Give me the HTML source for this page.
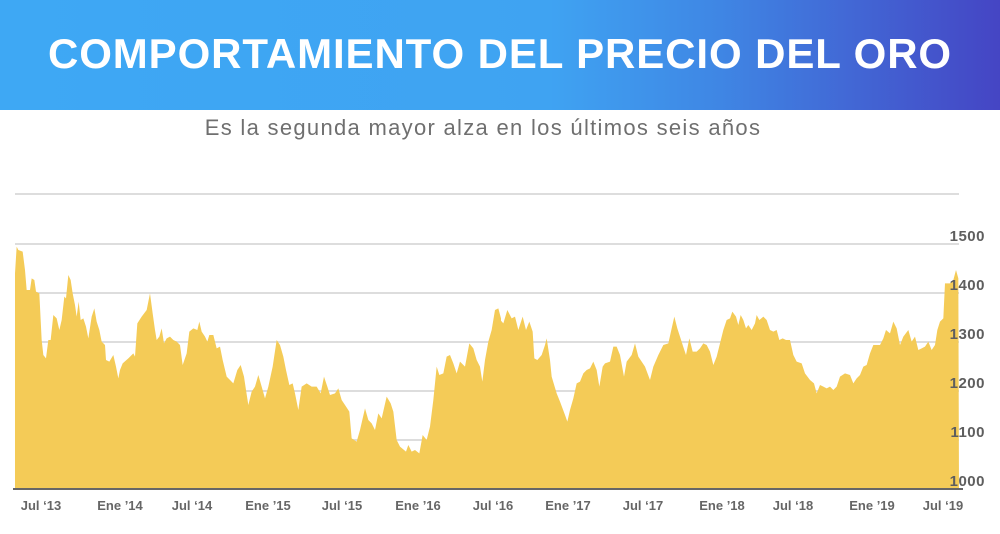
<!DOCTYPE html>
<html><head><meta charset="utf-8"><style>
body{margin:0;width:1000px;height:534px;background:#fff;overflow:hidden;font-family:"Liberation Sans",sans-serif}
.hdr{position:absolute;left:0;top:0;width:1000px;height:110px;background:linear-gradient(90deg,#3ea8f4 0%,#3fa3f2 55%,#3f86e4 72%,#4545c4 100%)}
.hdr div{position:absolute;left:0;width:1000px;top:30px;text-align:center;color:#fff;font-weight:bold;font-size:42px;letter-spacing:0.9px}
.sub{position:absolute;top:115px;left:-17px;width:1000px;text-align:center;color:#6f6f6f;font-size:22px;letter-spacing:1.3px}
</style></head><body>
<div class="hdr"><div>COMPORTAMIENTO DEL PRECIO DEL ORO</div></div>
<div class="sub">Es la segunda mayor alza en los últimos seis años</div>
<svg width="1000" height="534" style="position:absolute;left:0;top:0">
<g stroke="#ddd" stroke-width="2">
<line x1="15" y1="194" x2="959" y2="194"/><line x1="15" y1="244" x2="959" y2="244"/><line x1="15" y1="293" x2="959" y2="293"/><line x1="15" y1="342" x2="959" y2="342"/><line x1="15" y1="391" x2="959" y2="391"/><line x1="15" y1="440" x2="959" y2="440"/>
</g>
<g fill="#f4cb57">
<polygon transform="translate(0,230) scale(0.33333)" points="45,775 45,130 50,50 55,60 68,65 75,120 80,180 90,180 95,145 103,150 108,185 118,190 125,330 130,375 138,385 145,330 152,330 160,255 170,265 178,300 185,270 193,200 198,205 205,135 212,150 218,190 225,225 230,260 236,215 242,270 250,265 258,290 265,325 275,260 283,235 290,275 298,300 305,335 315,345 318,390 328,395 340,375 348,410 355,445 360,420 368,400 385,385 400,370 405,380 412,280 425,260 440,240 450,190 458,250 465,300 470,330 478,320 485,295 492,340 500,325 510,320 520,330 530,335 540,345 548,405 560,370 568,305 580,295 592,300 598,275 605,305 615,320 622,335 628,315 640,315 650,355 660,350 668,390 680,440 700,460 712,420 722,405 732,440 738,480 745,525 755,485 765,470 775,435 785,470 795,505 805,470 818,410 830,330 840,345 850,380 858,420 868,465 878,460 885,490 895,540 905,470 920,460 935,470 950,470 962,490 972,440 982,470 990,495 1005,490 1015,475 1025,510 1035,525 1048,545 1055,625 1070,635 1080,600 1095,535 1105,570 1115,580 1125,600 1135,550 1145,565 1160,500 1172,520 1180,545 1190,630 1200,650 1218,665 1225,645 1235,665 1245,660 1258,670 1268,615 1280,630 1290,590 1300,510 1310,410 1318,435 1330,430 1340,380 1350,375 1360,400 1370,430 1380,395 1395,410 1408,340 1420,355 1430,390 1440,410 1447,455 1455,390 1465,335 1475,300 1485,240 1495,235 1503,265 1503,775"/>
<polygon transform="translate(500,230) scale(0.33333)" points="-3,775 -3,265 10,280 22,240 35,265 45,260 55,300 68,260 78,300 88,275 98,305 103,385 112,390 125,375 135,345 140,325 150,390 155,440 170,490 180,515 195,555 202,575 210,540 220,505 230,460 240,455 250,430 260,420 270,415 280,395 290,420 298,470 308,410 315,400 330,395 340,350 350,350 360,375 372,440 380,395 395,375 405,340 415,380 425,395 435,410 450,450 460,410 475,375 490,345 505,340 515,295 523,260 532,295 540,320 548,345 558,375 568,325 578,365 590,365 600,355 610,340 620,345 630,365 640,405 650,380 660,340 670,300 680,270 690,265 697,245 708,260 715,285 722,255 730,270 738,295 745,285 755,300 765,280 770,255 778,270 790,260 800,270 810,300 820,305 830,300 838,330 848,325 858,330 870,330 880,375 890,395 905,400 915,430 930,450 942,460 950,490 960,465 970,470 980,475 990,470 1000,480 1010,470 1020,440 1035,430 1050,435 1060,460 1070,445 1080,435 1090,410 1100,405 1110,370 1120,345 1140,345 1150,325 1158,300 1170,310 1180,275 1190,295 1200,345 1210,320 1225,300 1235,335 1245,320 1255,360 1265,355 1275,350 1285,335 1295,360 1305,345 1312,300 1320,275 1330,265 1335,160 1350,160 1360,150 1368,120 1375,145 1377,775"/>
</g>
<line x1="13" y1="489" x2="963" y2="489" stroke="#666" stroke-width="2"/>
<g fill="#5e5e5e" font-weight="bold" font-size="15" text-anchor="end" font-family="Liberation Sans,sans-serif" letter-spacing="0.5">
<text x="985" y="241">1500</text><text x="985" y="290">1400</text><text x="985" y="339">1300</text><text x="985" y="388">1200</text><text x="985" y="437">1100</text><text x="985" y="486">1000</text>
</g>
<g fill="#666" font-weight="bold" font-size="13" text-anchor="middle" font-family="Liberation Sans,sans-serif">
<text x="41" y="510">Jul ‘13</text><text x="120" y="510">Ene ’14</text><text x="192" y="510">Jul ‘14</text><text x="268" y="510">Ene ’15</text><text x="342" y="510">Jul ‘15</text><text x="418" y="510">Ene ’16</text><text x="493" y="510">Jul ‘16</text><text x="568" y="510">Ene ’17</text><text x="643" y="510">Jul ‘17</text><text x="722" y="510">Ene ’18</text><text x="793" y="510">Jul ‘18</text><text x="872" y="510">Ene ’19</text><text x="943" y="510">Jul ‘19</text>
</g>
</svg>
</body></html>
